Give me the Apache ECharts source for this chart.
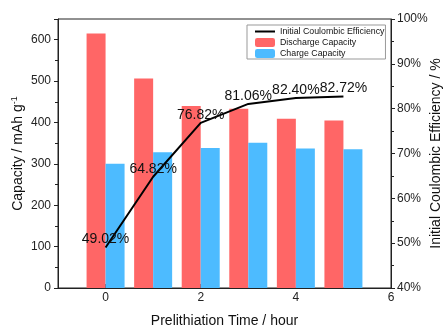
<!DOCTYPE html>
<html><head><meta charset="utf-8">
<script src="https://cdn.jsdelivr.net/npm/echarts@6/dist/echarts.min.js"></script>
<style>html,body{margin:0;padding:0;background:#fff}#c{width:445px;height:327px}</style>
</head><body><div id="c"></div>
<script>
const times = [0, 1, 2, 3, 4, 5];
const discharge = [615, 506, 440, 433, 409, 405];
const charge = [300, 328, 338, 351, 337, 335];
const ice = [49.02, 64.82, 76.82, 81.06, 82.40, 82.72];
const xTicks = [0, 2, 4, 6];

const font = 'Liberation Sans, Arial, sans-serif';
const chart = echarts.init(document.getElementById('c'), null, {renderer: 'canvas'});
chart.setOption({
  animation: false,
  textStyle: {fontFamily: font},
  grid: {left: 58, right: 54, top: 19, bottom: 39, show: true, borderColor: '#222', borderWidth: 1,
    containLabel: false, outerBoundsMode: 'none'},
  legend: {
    orient: 'vertical', left: 247, top: 25,
    padding: [2, 1, 1, 7], itemGap: 2, itemWidth: 20, itemHeight: 9,
    borderColor: '#999', borderWidth: 1, backgroundColor: '#fff',
    textStyle: {fontSize: 8.8, color: '#111', fontFamily: font},
    data: ['Initial Coulombic Efficiency', 'Discharge Capacity', 'Charge Capacity']
  },
  xAxis: {
    type: 'value', min: -1, max: 6,
    name: 'Prelithiation Time / hour', nameLocation: 'middle', nameGap: 26, nameMoveOverlap: false,
    nameTextStyle: {fontSize: 14, color: '#111', fontFamily: font},
    axisLine: {show: true, onZero: false, lineStyle: {color: '#222', width: 1}},
    axisTick: {show: true, inside: true, length: 4, customValues: xTicks, lineStyle: {color: '#222'}},
    axisLabel: {fontSize: 12, color: '#222', margin: 4, customValues: xTicks, fontFamily: font},
    splitLine: {show: false}
  },
  yAxis: [{
    type: 'value', min: 0, max: 650, interval: 100,
    name: 'Capacity / mAh g{sup|-1}', nameLocation: 'middle', nameGap: 31, nameRotate: 90, nameMoveOverlap: false,
    nameTextStyle: {fontSize: 14, color: '#111', fontFamily: font,
      rich: {sup: {fontSize: 9, verticalAlign: 'top', padding: [0, 0, 8, 0], color: '#111', fontFamily: font}}},
    axisLine: {show: true, onZero: false, lineStyle: {color: '#222', width: 1}},
    axisTick: {show: true, length: 4, lineStyle: {color: '#222'}},
    minorTick: {show: true, splitNumber: 2, length: 3, lineStyle: {color: '#222'}},
    axisLabel: {fontSize: 12, color: '#222', margin: 7, showMaxLabel: false, fontFamily: font},
    splitLine: {show: false}
  }, {
    type: 'value', min: 40, max: 100, interval: 10, position: 'right',
    name: 'Initial Coulombic Efficiency / %', nameLocation: 'middle', nameGap: 38, nameRotate: 90, nameMoveOverlap: false,
    nameTextStyle: {fontSize: 14, color: '#111', fontFamily: font},
    axisLine: {show: true, onZero: false, lineStyle: {color: '#222', width: 1}},
    axisTick: {show: true, length: 4, lineStyle: {color: '#222'}},
    minorTick: {show: true, splitNumber: 2, length: 3, lineStyle: {color: '#222'}},
    axisLabel: {fontSize: 12, color: '#222', margin: 6, formatter: '{value}%', fontFamily: font},
    splitLine: {show: false}
  }],
  series: [{
    name: 'Discharge Capacity', type: 'bar', yAxisIndex: 0,
    barWidth: 19, barGap: '0%',
    itemStyle: {color: '#FF6666'},
    data: times.map((t, i) => [t, discharge[i]])
  }, {
    name: 'Charge Capacity', type: 'bar', yAxisIndex: 0,
    barWidth: 19, barGap: '0%',
    itemStyle: {color: '#4DBBFF'},
    data: times.map((t, i) => [t, charge[i]])
  }, {
    name: 'Initial Coulombic Efficiency', type: 'line', yAxisIndex: 1,
    symbol: 'circle', symbolSize: 0.1, showSymbol: true, z: 5,
    lineStyle: {color: '#000', width: 2}, itemStyle: {color: 'rgba(0,0,0,0)'},
    label: {show: true, position: 'top', distance: 1, fontSize: 14, color: '#111', fontFamily: font,
      formatter: p => p.value[1].toFixed(2) + '%'},
    data: times.map((t, i) => [t, ice[i]])
  }]
});
</script></body></html>
